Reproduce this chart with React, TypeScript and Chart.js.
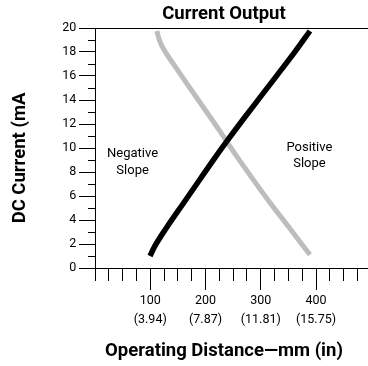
import React, { useEffect, useRef } from 'react';
import { Chart, registerables } from 'chart.js';

Chart.register(...registerables);

// Positive-slope output (black): distance in mm, current in mA
const positiveX = [99.5, 108, 130, 160, 190, 215, 240, 270, 300, 330, 360, 389];
const positiveY = [1.0, 1.8, 3.4, 5.4, 7.4, 9.05, 10.65, 12.5, 14.3, 16.1, 17.9, 19.75];

// Negative-slope output (gray)
const negativeX = [112, 115, 120, 130, 145, 165, 196, 226, 255, 285, 315, 350, 389];
const negativeY = [19.75, 19.2, 18.6, 17.8, 16.8, 15.45, 13.4, 11.4, 9.4, 7.45, 5.55, 3.45, 1.1];

// Axis definitions
const xMin = 0;
const xMax = 494;
const xStep = 25;
const xMajorValues = [100, 200, 300, 400];
const xMmLabels = ['100', '200', '300', '400'];
const xInchLabels = ['(3.94)', '(7.87)', '(11.81)', '(15.75)'];
const yMin = 0;
const yMax = 20;
const yStep = 1;
const yLabelEvery = 2;

const chartTitle = 'Current Output';
const xTitle = 'Operating Distance\u2014mm (in)';
const yTitle = 'DC Current (mA';
const negativeNote = ['Negative', 'Slope'];
const positiveNote = ['Positive', 'Slope'];

const FONT = 'Roboto';

const extrasPlugin = {
  id: 'extras',
  afterDraw(chart: any) {
    const { ctx, chartArea, scales } = chart;
    const xs = scales.x;
    const ys = scales.y;
    ctx.save();
    // minor ticks
    ctx.strokeStyle = '#000';
    ctx.lineWidth = 1;
    ctx.beginPath();
    for (let v = yMin; v <= yMax; v += yStep) {
      if (v % yLabelEvery === 0) continue;
      const py = Math.round(ys.getPixelForValue(v) - 0.5) + 0.5;
      ctx.moveTo(chartArea.left - 7, py);
      ctx.lineTo(chartArea.left, py);
    }
    for (let v = xMin; v <= xMax; v += xStep) {
      if (xMajorValues.includes(v)) continue;
      const px = Math.round(xs.getPixelForValue(v) - 0.5) + 0.5;
      ctx.moveTo(px, chartArea.bottom);
      ctx.lineTo(px, chartArea.bottom + 13);
    }
    ctx.stroke();

    // y axis title
    ctx.fillStyle = '#000';
    ctx.font = `bold 18.5px ${FONT}`;
    ctx.textAlign = 'center';
    ctx.textBaseline = 'middle';
    ctx.save();
    ctx.translate(20.5, (chartArea.top + chartArea.bottom) / 2 + 10);
    ctx.rotate(-Math.PI / 2);
    ctx.fillText(yTitle, 0, 0);
    ctx.restore();

    // annotations
    ctx.font = `13px ${FONT}`;
    const nx = xs.getPixelForValue(68);
    const ny = ys.getPixelForValue(8.8);
    ctx.fillText(negativeNote[0], nx, ny - 8.3);
    ctx.fillText(negativeNote[1], nx, ny + 8.3);
    const px2 = xs.getPixelForValue(388);
    const py2 = ys.getPixelForValue(9.35);
    ctx.fillText(positiveNote[0], px2, py2 - 8.3);
    ctx.fillText(positiveNote[1], px2, py2 + 8.3);
    ctx.restore();
  },
};

export default function App() {
  const ref = useRef<HTMLCanvasElement>(null);

  useEffect(() => {
    const canvas = ref.current;
    if (!canvas) return;
    const chart = new Chart(canvas, {
      type: 'line',
      data: {
        datasets: [
          {
            label: 'Positive Slope',
            data: positiveX.map((x, i) => ({ x, y: positiveY[i] })),
            borderColor: '#000000',
            borderWidth: 5.5,
            pointRadius: 0,
            cubicInterpolationMode: 'monotone',
            borderCapStyle: 'butt',
            fill: false,
          },
          {
            label: 'Negative Slope',
            data: negativeX.map((x, i) => ({ x, y: negativeY[i] })),
            borderColor: '#bdbdbd',
            borderWidth: 5,
            pointRadius: 0,
            cubicInterpolationMode: 'monotone',
            borderCapStyle: 'butt',
            fill: false,
          },
        ],
      },
      options: {
        responsive: false,
        animation: false,
        devicePixelRatio: 1,
        events: [],
        layout: { padding: { left: 56, right: -24, top: 0, bottom: 0 } },
        plugins: {
          legend: { display: false },
          tooltip: { enabled: false },
          title: {
            display: true,
            text: chartTitle,
            color: '#000',
            font: { family: FONT, weight: 'bold', size: 18.5, lineHeight: 1.2 },
            padding: { top: 2.9, bottom: 2.9 },
          },
          subtitle: {
            display: true,
            position: 'bottom',
            text: xTitle,
            color: '#000',
            font: { family: FONT, weight: 'bold', size: 18.5, lineHeight: 1.2 },
            padding: { top: 6.2, bottom: 3.6 },
          },
        },
        scales: {
          x: {
            type: 'linear',
            min: xMin,
            max: xMax,
            afterFit: (s: any) => {
              s.height = 66;
            },
            border: { display: true, color: '#000', width: 1 },
            grid: {
              drawOnChartArea: false,
              tickLength: 22,
              tickColor: (c: any) =>
                c.tick && xMajorValues.includes(c.tick.value) ? '#000' : 'rgba(0,0,0,0)',
            },
            ticks: {
              stepSize: xStep,
              includeBounds: false,
              autoSkip: false,
              maxRotation: 0,
              minRotation: 0,
              padding: 1.8,
              color: '#000',
              font: { family: FONT, size: 12.5, lineHeight: '19px' },
              callback: (v: any) => {
                const i = xMajorValues.indexOf(Number(v));
                return i >= 0 ? [xMmLabels[i], xInchLabels[i]] : '';
              },
            },
          },
          y: {
            type: 'linear',
            min: yMin,
            max: yMax,
            afterFit: (s: any) => {
              s.width = 39;
            },
            border: { display: true, color: '#000', width: 1 },
            grid: {
              drawOnChartArea: true,
              tickLength: 16,
              color: (c: any) => (c.tick && c.tick.value === yMax ? '#000' : 'rgba(0,0,0,0)'),
              tickColor: (c: any) =>
                c.tick && c.tick.value % yLabelEvery === 0 ? '#000' : 'rgba(0,0,0,0)',
            },
            ticks: {
              stepSize: yStep,
              autoSkip: false,
              padding: 2.7,
              color: '#000',
              font: { family: FONT, size: 12.5 },
              callback: (v: any) => (Number(v) % yLabelEvery === 0 ? String(v) : ''),
            },
          },
        },
      },
      plugins: [extrasPlugin],
    } as any);
    return () => chart.destroy();
  }, []);

  return (
    <div
      style={{
        position: 'absolute',
        left: 0,
        top: 0,
        width: 368,
        height: 366,
        background: '#fff',
      }}
    >
      <canvas ref={ref} width={368} height={366} style={{ display: 'block' }} />
    </div>
  );
}
